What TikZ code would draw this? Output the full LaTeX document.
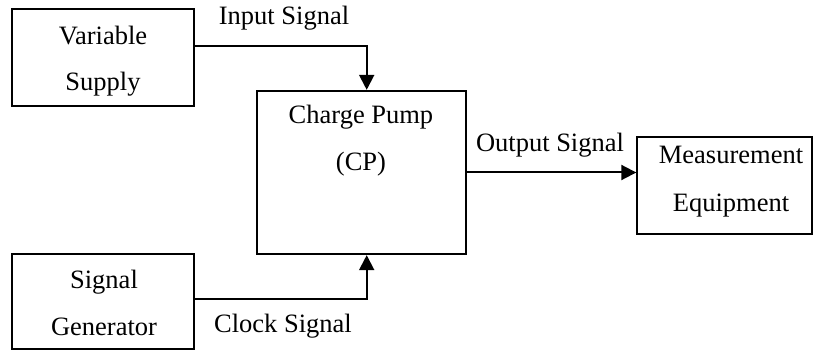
\documentclass[tikz,border=0pt]{standalone}
\usepackage{fontspec}
\setmainfont{Liberation Serif}
\usetikzlibrary{arrows.meta}
\begin{document}
\begin{tikzpicture}[x=1pt,y=-1pt,
  box/.style={draw,line width=1.8pt,rectangle,inner sep=0pt},
  txt/.style={anchor=base,inner sep=0pt,font=\fontsize{26.5}{30}\selectfont},
  conn/.style={line width=2pt,-{Triangle[length=15pt,width=15pt]}}]
\useasboundingbox (0,0) rectangle (814,350);
% boxes
\node[box,minimum width=181.7pt,minimum height=96.7pt] (vs) at (103.2,57.7) {};
\node[box,minimum width=209pt,minimum height=163.5pt] (cp) at (361.5,172.5) {};
\node[box,minimum width=175pt,minimum height=97.6pt] (me) at (724.7,185.5) {};
\node[box,minimum width=181.7pt,minimum height=95pt] (sg) at (103.2,301.5) {};
% box texts
\node[txt] (vs1) at (103,44.3) {Variable};
\node[txt] (vs2) at (103,90.5) {Supply};
\node[txt] (cp1) at (361,124) {Charge Pump};
\node[txt] (cp2) at (361,170.5) {(CP)};
\node[txt] (me1) at (731,163.5) {Measurement};
\node[txt] (me2) at (731,211.5) {Equipment};
\node[txt] (sg1) at (104,288.5) {Signal};
\node[txt] (sg2) at (104,335) {Generator};
% connector labels
\node[txt] (lin) at (284,25) {Input Signal};
\node[txt] (lout) at (550,151.7) {Output Signal};
\node[txt] (lclk) at (283,332) {Clock Signal};
% connectors
\draw[conn] ([yshift=11.7pt]vs.east) -| ([xshift=5.2pt]cp.north);
\draw[conn] ([yshift=2.2pt]sg.east) -| ([xshift=5.2pt]cp.south);
\draw[conn] (cp.east) -- (cp.east -| me.west);
\end{tikzpicture}
\end{document}
